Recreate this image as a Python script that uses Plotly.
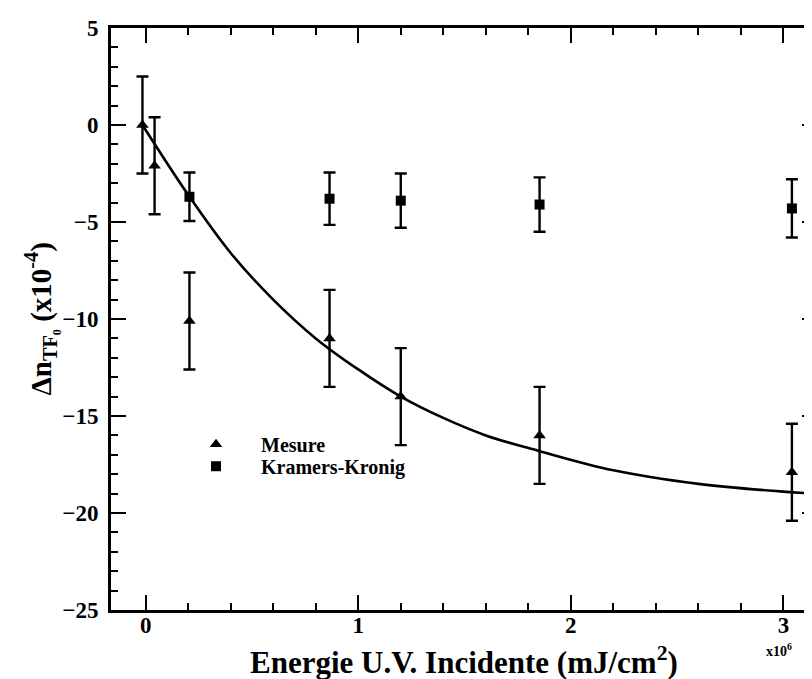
import plotly.graph_objects as go

# Mesure (triangles)
mes_x = [-0.015, 0.042, 0.206, 0.865, 1.20, 1.853, 3.04]
mes_y = [0.0, -2.1, -10.1, -11.0, -14.0, -16.0, -17.9]
mes_err = [2.5, 2.5, 2.5, 2.5, 2.5, 2.5, 2.5]

# Kramers-Kronig (squares)
kk_x = [0.206, 0.865, 1.20, 1.853, 3.04]
kk_y = [-3.7, -3.8, -3.9, -4.1, -4.3]
kk_err = [1.25, 1.35, 1.4, 1.4, 1.5]

# fitted curve
fit_x = [-0.015, 0.2, 0.4, 0.6, 0.8, 1.0, 1.2, 1.4, 1.6, 1.85, 2.2, 2.6, 3.0, 3.16]
fit_y = [0.0, -3.6, -6.6, -9.0, -11.0, -12.6, -14.0, -15.1, -16.0, -16.8, -17.8, -18.5, -18.9, -19.0]

FONT = "Liberation Serif"

fig = go.Figure()
fig.add_trace(go.Scatter(x=fit_x, y=fit_y, mode='lines', line=dict(color='black', width=2.6, shape='spline'),
                         showlegend=False, hoverinfo='skip'))
fig.add_trace(go.Scatter(x=mes_x, y=mes_y, mode='markers', name='Mesure', legend='legend',
                         marker=dict(symbol='triangle-up', size=11, color='black'),
                         error_y=dict(type='data', array=mes_err, color='black', thickness=2.4, width=6)))
fig.add_trace(go.Scatter(x=kk_x, y=kk_y, mode='markers', name='Kramers-Kronig', legend='legend2',
                         marker=dict(symbol='square', size=10, color='black'),
                         error_y=dict(type='data', array=kk_err, color='black', thickness=2.4, width=6)))

axis_common = dict(showline=True, linecolor='black', linewidth=3, mirror='ticks', ticks='inside',
                   tickcolor='black', tickwidth=2, ticklen=15, showgrid=False, zeroline=False,
                   tickfont=dict(family=FONT, size=23, color='black', weight='bold'))

fig.update_xaxes(range=[-0.163, 3.158], tickvals=[0, 1, 2, 3], ticktext=['0', '1', '2', '3'],
                 minor=dict(dtick=0.2, ticks='inside', ticklen=7, tickwidth=2, tickcolor='black'),
                 ticklabelstandoff=-8, **axis_common)
fig.update_yaxes(range=[-25, 5], tickvals=[5, 0, -5, -10, -15, -20, -25],
                 minor=dict(dtick=1, ticks='inside', ticklen=7, tickwidth=2, tickcolor='black'),
                 ticklabelstandoff=5, **axis_common)

# axis titles and multiplier
fig.add_annotation(x=0.5, y=-0.086, xref='paper', yref='paper', showarrow=False, yanchor='middle',
                   text='Energie U.V. Incidente (mJ/cm<sup>2</sup>)',
                   font=dict(family=FONT, size=31, color='black', weight='bold'))
fig.add_annotation(x=-0.1, y=0.5, xref='paper', yref='paper', showarrow=False, textangle=-90,
                   xanchor='center', yanchor='middle',
                   text='Δn<sub>TF₀</sub> (x10<sup>-4</sup>)',
                   font=dict(family=FONT, size=29, color='black', weight='bold'))
fig.add_annotation(x=0.968, y=-0.088, xref='paper', yref='paper', showarrow=False,
                   text='x10<sup>6</sup>', font=dict(family=FONT, size=14, color='black', weight='bold'))

leg_style = dict(xanchor='left', yanchor='middle', bgcolor='rgba(0,0,0,0)',
                 font=dict(family=FONT, size=20, color='black', weight='bold'), itemwidth=80)
fig.update_layout(width=812, height=679, margin=dict(l=103, r=0, t=20, b=77),
                  plot_bgcolor='white', paper_bgcolor='white',
                  legend=dict(x=0.085, y=0.285, **leg_style),
                  legend2=dict(x=0.085, y=0.247, **leg_style))

fig.write_html("out.html")
